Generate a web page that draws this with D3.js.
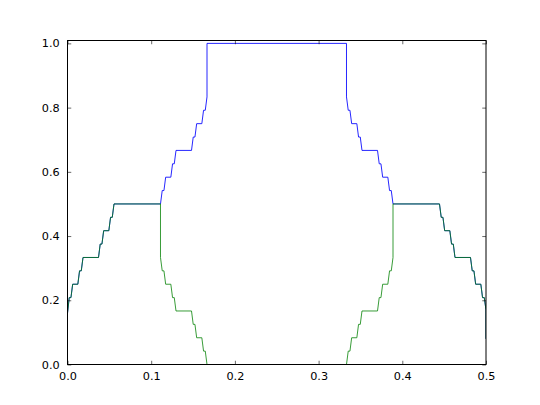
<!DOCTYPE html>
<html>
<head>
<meta charset="utf-8">
<script src="https://cdn.jsdelivr.net/npm/d3@7"></script>
<style>
  html, body { margin: 0; padding: 0; background: #ffffff; }
  svg { display: block; }
  text { font-family: "DejaVu Sans", sans-serif; font-size: 11.25px; fill: #000; }
</style>
</head>
<body>
<svg id="chart" width="540" height="405"></svg>
<script>
// ---- data ----
const xTicks = [0.0, 0.1, 0.2, 0.3, 0.4, 0.5];
const yTicks = [0.0, 0.2, 0.4, 0.6, 0.8, 1.0];

// blue series (x, y)
const blueX = [0, 0.00206, 0.00412, 0.00617, 0.01235, 0.01440, 0.01646, 0.01852, 0.03704, 0.03909, 0.04115, 0.04321, 0.04938, 0.05144, 0.05350, 0.05556, 0.11111,
  0.11317, 0.11523, 0.11728, 0.12346, 0.12551, 0.12757, 0.12963, 0.14815, 0.15021, 0.15226, 0.15432, 0.16049, 0.16255, 0.16461, 0.16667, 0.16667,
  0.33333, 0.33333, 0.33539, 0.33745, 0.33951, 0.34568, 0.34774, 0.34979, 0.35185, 0.37037, 0.37243, 0.37449, 0.37654, 0.38272, 0.38477, 0.38683, 0.38889,
  0.44444, 0.44650, 0.44856, 0.45062, 0.45679, 0.45885, 0.46091, 0.46296, 0.48148, 0.48354, 0.48560, 0.48765, 0.49383, 0.49588, 0.49794, 0.5, 0.5];
const blueY = [0.16, 0.2083, 0.2083, 0.25, 0.25, 0.2917, 0.2917, 0.3333, 0.3333, 0.375, 0.375, 0.4167, 0.4167, 0.4583, 0.4583, 0.5, 0.5,
  0.5417, 0.5417, 0.5833, 0.5833, 0.625, 0.625, 0.6667, 0.6667, 0.7083, 0.7083, 0.75, 0.75, 0.7917, 0.7917, 0.8333, 1.0,
  1.0, 0.8333, 0.7917, 0.7917, 0.75, 0.75, 0.7083, 0.7083, 0.6667, 0.6667, 0.625, 0.625, 0.5833, 0.5833, 0.5417, 0.5417, 0.5,
  0.5, 0.4583, 0.4583, 0.4167, 0.4167, 0.375, 0.375, 0.3333, 0.3333, 0.2917, 0.2917, 0.25, 0.25, 0.2083, 0.2083, 0.17, 0.08];

// green series (x, y)
const greenX = [0, 0.00206, 0.00412, 0.00617, 0.01235, 0.01440, 0.01646, 0.01852, 0.03704, 0.03909, 0.04115, 0.04321, 0.04938, 0.05144, 0.05350, 0.05556, 0.11111,
  0.11111, 0.11317, 0.11523, 0.11728, 0.12346, 0.12551, 0.12757, 0.12963, 0.14815, 0.15021, 0.15226, 0.15432, 0.16049, 0.16255, 0.16461, 0.16667,
  0.33333, 0.33539, 0.33745, 0.33951, 0.34568, 0.34774, 0.34979, 0.35185, 0.37037, 0.37243, 0.37449, 0.37654, 0.38272, 0.38477, 0.38683, 0.38889, 0.38889,
  0.44444, 0.44650, 0.44856, 0.45062, 0.45679, 0.45885, 0.46091, 0.46296, 0.48148, 0.48354, 0.48560, 0.48765, 0.49383, 0.49588, 0.49794, 0.5, 0.5];
const greenY = [0.16, 0.2083, 0.2083, 0.25, 0.25, 0.2917, 0.2917, 0.3333, 0.3333, 0.375, 0.375, 0.4167, 0.4167, 0.4583, 0.4583, 0.5, 0.5,
  0.3333, 0.2917, 0.2917, 0.25, 0.25, 0.2083, 0.2083, 0.1667, 0.1667, 0.125, 0.125, 0.0833, 0.0833, 0.0417, 0.0417, 0.0,
  0.0, 0.0417, 0.0417, 0.0833, 0.0833, 0.125, 0.125, 0.1667, 0.1667, 0.2083, 0.2083, 0.25, 0.25, 0.2917, 0.2917, 0.3333, 0.5,
  0.5, 0.4583, 0.4583, 0.4167, 0.4167, 0.375, 0.375, 0.3333, 0.3333, 0.2917, 0.2917, 0.25, 0.25, 0.2083, 0.2083, 0.17, 0.08];

// ---- layout ----
const mLeft = 67.5, mRight = 486, mTop = 40.5, mBottom = 364.5;
const svg = d3.select("#chart");

const x = d3.scaleLinear().domain([0, 0.5]).range([mLeft, mRight]);
const y = d3.scaleLinear().domain([0, 1.009]).range([mBottom, mTop]);

svg.append("defs").append("clipPath").attr("id", "clip")
  .append("rect").attr("x", mLeft).attr("y", mTop)
  .attr("width", mRight - mLeft).attr("height", mBottom - mTop);

const line = d3.line().x(d => x(d[0])).y(d => y(d[1]));
const blue = blueX.map((v, i) => [v, blueY[i]]);
const green = greenX.map((v, i) => [v, greenY[i]]);

const plot = svg.append("g").attr("clip-path", "url(#clip)");
plot.append("path").datum(blue).attr("d", line)
  .attr("fill", "none").attr("stroke", "#0000ff").attr("stroke-opacity", 0.85).attr("stroke-width", 1);
plot.append("path").datum(green).attr("d", line)
  .attr("fill", "none").attr("stroke", "#008000").attr("stroke-opacity", 0.78).attr("stroke-width", 1);

// axes with inward ticks on all four sides
const tl = 3.75;
const fmt = d3.format(".1f");
svg.append("g").attr("transform", `translate(0,${mBottom})`)
  .call(d3.axisBottom(x).tickValues(xTicks).tickSize(-tl).tickPadding(tl + 4).tickFormat(fmt))
  .call(g => g.select(".domain").remove());
svg.append("g").attr("transform", `translate(0,${mTop})`)
  .call(d3.axisTop(x).tickValues(xTicks).tickSize(-tl).tickFormat(""))
  .call(g => g.select(".domain").remove());
svg.append("g").attr("transform", `translate(${mLeft},0)`)
  .call(d3.axisLeft(y).tickValues(yTicks).tickSize(-tl).tickPadding(tl + 4).tickFormat(fmt))
  .call(g => g.select(".domain").remove());
svg.append("g").attr("transform", `translate(${mRight},0)`)
  .call(d3.axisRight(y).tickValues(yTicks).tickSize(-tl).tickFormat(""))
  .call(g => g.select(".domain").remove());

svg.selectAll(".tick line").attr("stroke", "#000").attr("stroke-width", 0.6);
svg.selectAll(".tick text").style("font-family", "'DejaVu Sans', sans-serif").style("font-size", "11.25px").attr("fill", "#000");

// frame on top
svg.append("rect").attr("x", mLeft).attr("y", mTop)
  .attr("width", mRight - mLeft).attr("height", mBottom - mTop)
  .attr("fill", "none").attr("stroke", "#000").attr("stroke-width", 1);
</script>
</body>
</html>
